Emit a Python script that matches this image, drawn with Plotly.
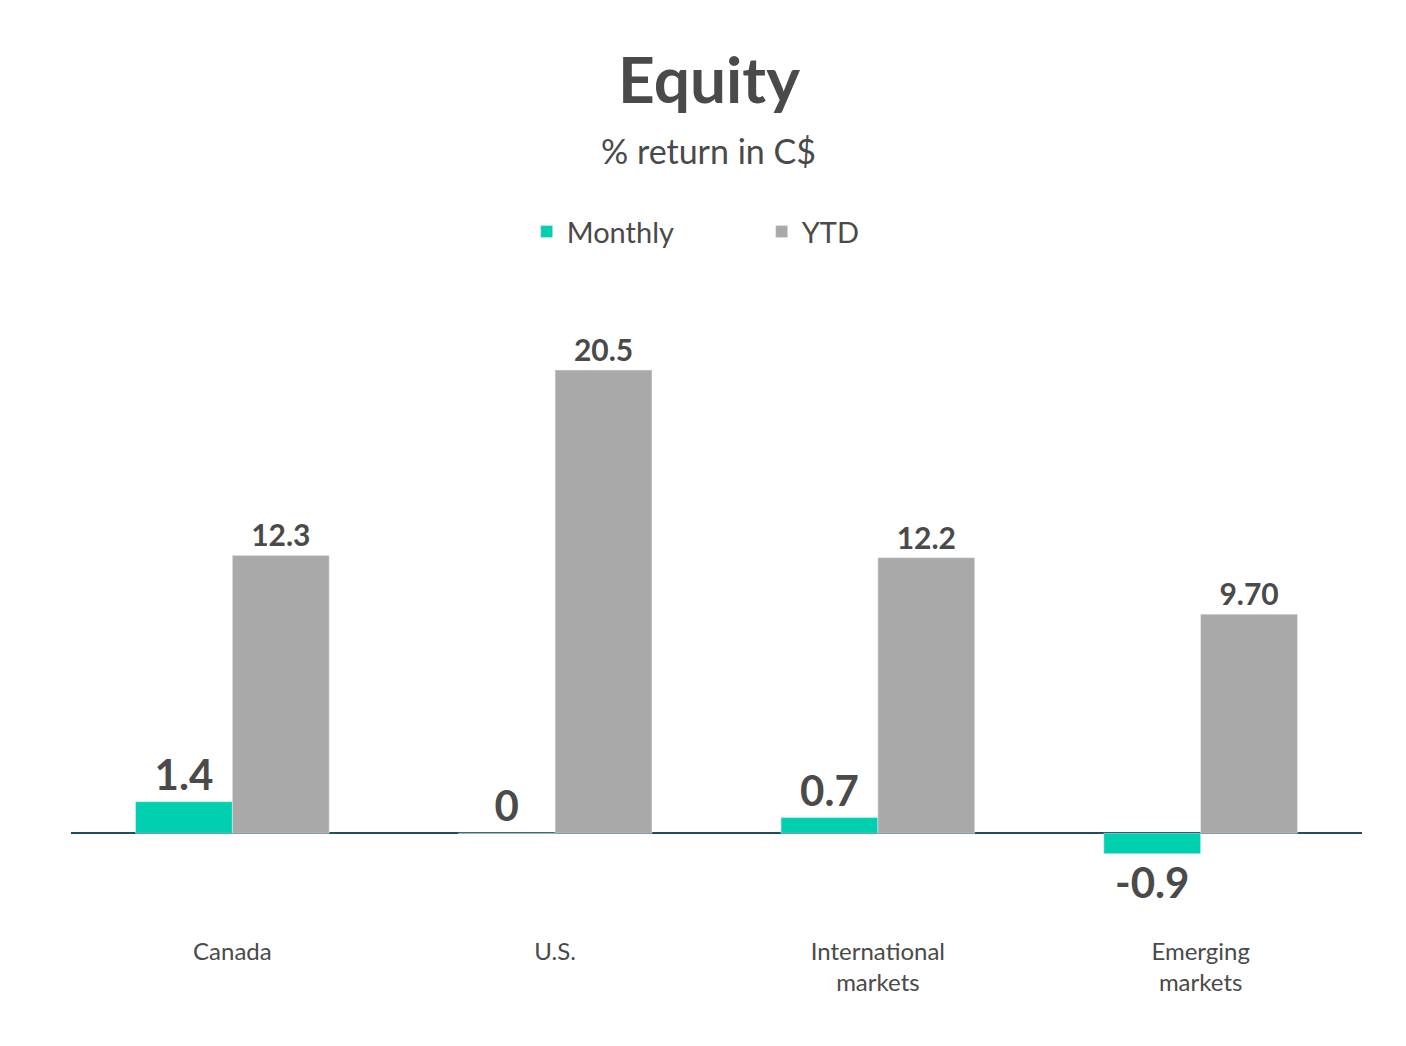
import plotly.graph_objects as go

categories = ["Canada", "U.S.", "International<br>markets", "Emerging<br>markets"]
monthly = [1.4, 0, 0.7, -0.9]
ytd = [12.3, 20.5, 12.2, 9.70]
monthly_text = ["1.4", "0", "0.7", "-0.9"]
ytd_text = ["12.3", "20.5", "12.2", "9.70"]

fig = go.Figure()
fig.add_bar(x=categories, y=monthly, name="Monthly", marker_color="#00cfb0",
            text=monthly_text, textposition="outside", cliponaxis=False,
            textfont=dict(size=42, color="#4a4a4a", family="Lato", weight="bold"))
fig.add_bar(x=categories, y=ytd, name="YTD", marker_color="#a9a9a9",
            text=ytd_text, textposition="outside", cliponaxis=False,
            textfont=dict(size=30, color="#4a4a4a", family="Lato", weight="bold"))

fig.update_layout(
    width=1406, height=1046, plot_bgcolor="white", paper_bgcolor="white",
    margin=dict(l=63, r=52, t=283, b=119),
    barmode="group", bargap=0.4, bargroupgap=0,
    font=dict(family="Lato", color="#4a4a4a"),
    showlegend=True,
    legend=dict(orientation="h", x=0.535, xanchor="center", y=1.092, yanchor="middle",
                font=dict(size=29, color="#4a4a4a"), itemwidth=30, entrywidth=190),
    annotations=[
        dict(text="<b>Equity</b>", x=0.494, y=1.33, xref="paper", yref="paper",
             showarrow=False, font=dict(size=64, color="#4a4a4a"), yanchor="middle"),
        dict(text="% return in C$", x=0.494, y=1.218, xref="paper", yref="paper",
             showarrow=False, font=dict(size=34, color="#4a4a4a"), yanchor="middle"),
    ],
)
fig.update_xaxes(showline=False, showgrid=False, ticks="", tickfont=dict(size=24, color="#4a4a4a"))
fig.update_yaxes(range=[-4.5, 24], visible=True, showticklabels=False, showgrid=False,
                 zeroline=True, zerolinecolor="#1f4e5f", zerolinewidth=1.5)
fig.write_html("out.html")
